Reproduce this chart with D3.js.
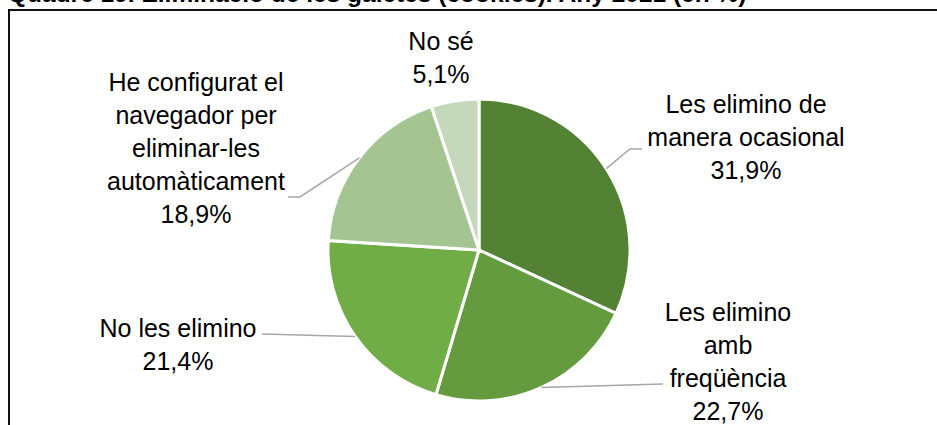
<!DOCTYPE html>
<html>
<head>
<meta charset="utf-8">
<script src="https://cdn.jsdelivr.net/npm/d3@7"></script>
<style>
  html, body { margin: 0; padding: 0; background: #fff; }
  svg { display: block; }
</style>
</head>
<body>
<svg id="chart" width="937" height="425"></svg>
<script>
// Eliminació de les galetes (cookies), 2021 — percentatges
const titleText = "Quadre 19. Eliminació de les galetes (cookies). Any 2021 (en %)";
const categories = [
  "Les elimino de manera ocasional",
  "Les elimino amb freqüència",
  "No les elimino",
  "He configurat el navegador per eliminar-les automàticament",
  "No sé"
];
const values = [31.9, 22.7, 21.4, 18.9, 5.1];
const colors = ["#548235", "#639B3E", "#70AD47", "#A4C591", "#C5D8BC"];

// How each category name is broken into lines for its label
const labelLines = [
  ["Les elimino de", "manera ocasional"],
  ["Les elimino", "amb", "freqüència"],
  ["No les elimino"],
  ["He configurat el", "navegador per", "eliminar-les", "automàticament"],
  ["No sé"]
];

// Label placement: anchor centre x, first baseline y, leader elbow and end (null = no leader)
const labelLayout = [
  { x: 746, y: 113, elbow: [630, 149], end: [642, 149] },
  { x: 728, y: 321, elbow: null,       end: [663, 384] },
  { x: 178, y: 337, elbow: null,       end: [262, 334] },
  { x: 196, y: 91,  elbow: [300, 197], end: [288, 197] },
  { x: 441, y: 50,  elbow: null,       end: null }
];

const fmt = v => d3.format(".1f")(v).replace(".", ",") + "%";

const svg = d3.select("#chart");
const W = 937, H = 425;
const cx = 479, cy = 250, R = 151;
const lineH = 33;

// Title (sits partly above the page edge)
svg.append("text")
  .attr("x", 8).attr("y", 2)
  .attr("font-family", "Liberation Sans, Arial, sans-serif")
  .attr("font-weight", "bold")
  .attr("font-size", 24.5)
  .attr("fill", "#000")
  .text(titleText);

// Frame around the chart area
svg.append("path")
  .attr("d", `M9,${H} L9,10 L${W},10`)
  .attr("fill", "none")
  .attr("stroke", "#111")
  .attr("stroke-width", 2);

const pie = d3.pie().sort(null).value(d => d)
  .startAngle(0).endAngle(2 * Math.PI);
const arcs = pie(values);
const arc = d3.arc().innerRadius(0).outerRadius(R);
const edgeArc = d3.arc().innerRadius(R).outerRadius(R);

const g = svg.append("g").attr("transform", `translate(${cx},${cy})`);

g.selectAll("path.slice")
  .data(arcs)
  .join("path")
  .attr("class", "slice")
  .attr("d", arc)
  .attr("fill", (d, i) => colors[i])
  .attr("stroke", "#fff")
  .attr("stroke-width", 3)
  .attr("stroke-linejoin", "miter");

// Leader lines from the slice edge to the label
arcs.forEach((d, i) => {
  const L = labelLayout[i];
  if (!L.end) return;
  const [sx, sy] = edgeArc.centroid(d);
  const pts = [[cx + sx, cy + sy]];
  if (L.elbow) pts.push(L.elbow);
  pts.push(L.end);
  svg.append("path")
    .attr("d", d3.line()(pts))
    .attr("fill", "none")
    .attr("stroke", "#A6A6A6")
    .attr("stroke-width", 1.5);
});

// Category labels with their values
categories.forEach((c, i) => {
  const L = labelLayout[i];
  const lines = labelLines[i].concat([fmt(values[i])]);
  const t = svg.append("text")
    .attr("font-family", "Liberation Sans, Arial, sans-serif")
    .attr("font-size", 25)
    .attr("fill", "#000")
    .attr("text-anchor", "middle");
  lines.forEach((ln, k) => {
    t.append("tspan")
      .attr("x", L.x)
      .attr("y", L.y + k * lineH)
      .text(ln);
  });
});
</script>
</body>
</html>
